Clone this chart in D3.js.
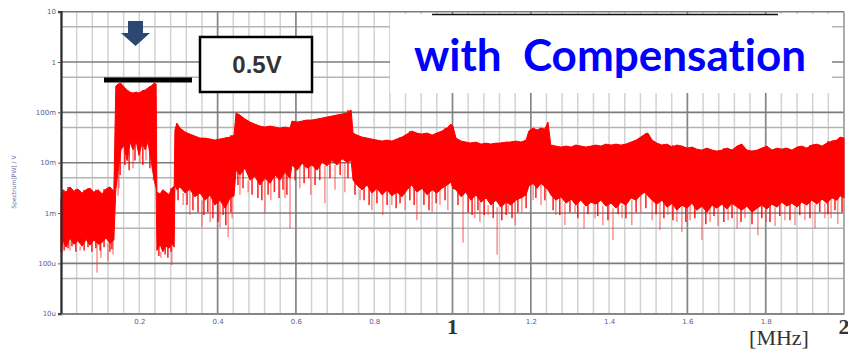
<!DOCTYPE html>
<html>
<head>
<meta charset="utf-8">
<script src="https://cdn.jsdelivr.net/npm/d3@7"></script>
<style>
  body { margin: 0; background: #fff; }
  svg { display: block; }
</style>
</head>
<body>
<svg id="chart" width="848" height="349"></svg>
<script>
// spectrum band: [MHz, top of band (V), bottom of dense band (V)]
const band = [
  [0.000, 0.0018, 0.00017], [0.005, 0.0029, 0.00029], [0.013, 0.0026, 0.00021], [0.023, 0.0033, 0.00032],
  [0.033, 0.0027, 0.00024], [0.043, 0.0030, 0.00028], [0.054, 0.0025, 0.00022], [0.064, 0.0029, 0.00030],
  [0.074, 0.0031, 0.00023], [0.084, 0.0026, 0.00029], [0.095, 0.0029, 0.00024], [0.105, 0.0024, 0.00026],
  [0.115, 0.0030, 0.00032], [0.125, 0.0033, 0.00025], [0.135, 0.0027, 0.00029],
  // 0.2 MHz burst
  [0.140, 0.333, 0.0029], [0.146, 0.365, 0.0071], [0.153, 0.38, 0.018], [0.161, 0.32, 0.022],
  [0.169, 0.278, 0.011], [0.176, 0.253, 0.026], [0.184, 0.242, 0.018], [0.192, 0.253, 0.027],
  [0.199, 0.242, 0.014], [0.207, 0.265, 0.0245], [0.215, 0.278, 0.018], [0.222, 0.304, 0.026],
  [0.230, 0.333, 0.011], [0.238, 0.38, 0.0045], [0.243, 0.365, 0.0031],
  // low notch
  [0.245, 0.0026, 0.00018], [0.253, 0.0024, 0.00024], [0.260, 0.0029, 0.00017], [0.268, 0.0026, 0.00022],
  [0.276, 0.0023, 0.00020], [0.283, 0.0031, 0.00025], [0.289, 0.0034, 0.00021],
  [0.291, 0.0445, 0.0036], [0.296, 0.0612, 0.0029], [0.304, 0.0487, 0.0033], [0.317, 0.0406, 0.0025],
  [0.329, 0.037, 0.0030], [0.342, 0.0338, 0.0021], [0.355, 0.0308, 0.0025], [0.368, 0.0308, 0.0018],
  [0.381, 0.0295, 0.0023], [0.393, 0.0281, 0.00144], [0.406, 0.0295, 0.0018], [0.419, 0.0308, 0.00125],
  [0.432, 0.0323, 0.0020], [0.442, 0.0354, 0.0022],
  [0.447, 0.0968, 0.0071], [0.457, 0.0884, 0.0057], [0.470, 0.0736, 0.0078], [0.483, 0.0641, 0.0045],
  [0.495, 0.0585, 0.0054], [0.508, 0.0534, 0.0036], [0.521, 0.0510, 0.0049], [0.534, 0.0534, 0.0039],
  [0.547, 0.0510, 0.0057], [0.559, 0.0487, 0.0045], [0.572, 0.0510, 0.0065], [0.585, 0.0487, 0.0049],
  [0.590, 0.0671, 0.0090], [0.603, 0.0641, 0.0071], [0.616, 0.0671, 0.0098], [0.628, 0.0703, 0.0078],
  [0.641, 0.0703, 0.0090], [0.654, 0.0736, 0.0071], [0.667, 0.0770, 0.0103], [0.679, 0.0806, 0.0086],
  [0.692, 0.0844, 0.011], [0.705, 0.0884, 0.0090], [0.718, 0.0925, 0.012], [0.730, 0.0968, 0.0103],
  [0.741, 0.111, 0.011],
  [0.746, 0.0388, 0.0045], [0.756, 0.0354, 0.0036], [0.769, 0.0323, 0.0029], [0.782, 0.0308, 0.0036],
  [0.794, 0.0295, 0.0025], [0.807, 0.0281, 0.0031], [0.820, 0.0269, 0.0023], [0.833, 0.0281, 0.0029],
  [0.845, 0.0269, 0.0022], [0.858, 0.0295, 0.0026], [0.871, 0.0323, 0.0021], [0.884, 0.037, 0.0029],
  [0.896, 0.0425, 0.0036], [0.909, 0.0388, 0.0026], [0.922, 0.037, 0.0031], [0.935, 0.0388, 0.0023],
  [0.948, 0.0354, 0.0029], [0.960, 0.0388, 0.0025], [0.973, 0.0425, 0.0031], [0.986, 0.0487, 0.0036],
  [0.996, 0.0585, 0.0041], [1.001, 0.0534, 0.0031], [1.009, 0.0308, 0.0029], [1.022, 0.0269, 0.0021],
  [1.034, 0.0257, 0.0026], [1.047, 0.0245, 0.0018], [1.060, 0.0257, 0.0023], [1.073, 0.0234, 0.00164],
  [1.086, 0.0245, 0.0020], [1.098, 0.0234, 0.00144], [1.111, 0.0245, 0.0018], [1.124, 0.0245, 0.00131],
  [1.137, 0.0257, 0.00164], [1.149, 0.0257, 0.00144], [1.162, 0.0269, 0.0018], [1.175, 0.0257, 0.0020],
  [1.188, 0.0281, 0.0023], [1.195, 0.0425, 0.0034], [1.206, 0.0487, 0.0039], [1.216, 0.0445, 0.0031],
  [1.226, 0.0487, 0.0039], [1.236, 0.0465, 0.0033], [1.244, 0.0641, 0.0029],
  [1.251, 0.0224, 0.0023], [1.264, 0.0214, 0.0018], [1.277, 0.0204, 0.0021], [1.290, 0.0214, 0.00157],
  [1.303, 0.0204, 0.0019], [1.315, 0.0224, 0.00144], [1.328, 0.0214, 0.0018], [1.341, 0.0204, 0.00137],
  [1.354, 0.0214, 0.00164], [1.366, 0.0224, 0.0015], [1.379, 0.0214, 0.0018], [1.392, 0.0234, 0.00137],
  [1.405, 0.0224, 0.00157], [1.418, 0.0234, 0.00125], [1.430, 0.0224, 0.00164], [1.443, 0.0234, 0.00144],
  [1.456, 0.0257, 0.0020], [1.469, 0.0281, 0.0018], [1.481, 0.0323, 0.0023], [1.492, 0.037, 0.0026],
  [1.499, 0.0388, 0.0022], [1.510, 0.0281, 0.0018], [1.522, 0.0245, 0.0015], [1.535, 0.0224, 0.0018],
  [1.548, 0.0234, 0.00131], [1.561, 0.0204, 0.00157], [1.573, 0.0224, 0.00114], [1.586, 0.0214, 0.00144],
  [1.599, 0.0195, 0.00125], [1.612, 0.0204, 0.00157], [1.624, 0.0186, 0.00114], [1.637, 0.0178, 0.00137],
  [1.650, 0.0195, 0.00104], [1.663, 0.0178, 0.00144], [1.675, 0.0170, 0.00125], [1.688, 0.0178, 0.0015],
  [1.701, 0.0195, 0.0012], [1.714, 0.0178, 0.00157], [1.727, 0.0214, 0.00131], [1.739, 0.0234, 0.00114],
  [1.752, 0.0178, 0.00137], [1.765, 0.0170, 0.00104], [1.778, 0.0178, 0.00125], [1.790, 0.0195, 0.00144],
  [1.803, 0.0214, 0.0012], [1.816, 0.0178, 0.0015], [1.829, 0.0195, 0.00131], [1.841, 0.0186, 0.00164],
  [1.854, 0.0195, 0.00137], [1.867, 0.0178, 0.00157], [1.880, 0.0204, 0.00131], [1.892, 0.0214, 0.00164],
  [1.905, 0.0195, 0.00144], [1.918, 0.0224, 0.0018], [1.931, 0.0234, 0.0015], [1.944, 0.0214, 0.0019],
  [1.956, 0.0245, 0.00157], [1.969, 0.0269, 0.0020], [1.982, 0.0281, 0.0018], [1.990, 0.0323, 0.0022],
  [2.000, 0.0308, 0.0020]
];

// dense streaks hanging just under the band: [MHz, lowest value (V)]
const streaks = [
  [0.008, 0.00018], [0.018, 0.0002], [0.028, 0.00022], [0.038, 0.00017], [0.059, 0.00018], [0.069, 0.00021],
  [0.079, 0.00017], [0.089, 0.0002], [0.100, 0.00018], [0.110, 0.00021], [0.125, 0.00017], [0.130, 0.00019],
  [0.151, 0.0057], [0.163, 0.009], [0.174, 0.0071], [0.189, 0.011], [0.209, 0.009], [0.227, 0.0078],
  [0.250, 0.00014], [0.266, 0.00015], [0.273, 0.00013], [0.281, 0.00017],
  [0.299, 0.0018], [0.322, 0.00144], [0.337, 0.00114], [0.350, 0.00104], [0.365, 0.00091], [0.375, 0.00104],
  [0.388, 0.00079], [0.401, 0.00066], [0.414, 0.00091], [0.421, 0.00057], [0.434, 0.00104],
  [0.452, 0.0036], [0.465, 0.0031], [0.488, 0.0023], [0.503, 0.0020], [0.513, 0.0018], [0.529, 0.0023],
  [0.545, 0.0026], [0.557, 0.0020], [0.567, 0.0029], [0.577, 0.0023], [0.598, 0.0045], [0.621, 0.0039],
  [0.633, 0.0049], [0.649, 0.0036], [0.661, 0.0045], [0.687, 0.0049], [0.713, 0.0057], [0.733, 0.0049],
  [0.751, 0.0023], [0.774, 0.0018], [0.787, 0.00144], [0.807, 0.00157], [0.833, 0.00144], [0.856, 0.00125],
  [0.866, 0.00157], [0.891, 0.0018], [0.902, 0.00144], [0.927, 0.00144], [0.940, 0.00114], [0.958, 0.00157],
  [0.981, 0.0018], [1.014, 0.00144], [1.040, 0.00104], [1.050, 0.00091], [1.065, 0.00114], [1.081, 0.00091],
  [1.104, 0.00079], [1.126, 0.00072], [1.137, 0.00091], [1.152, 0.00079], [1.167, 0.00104], [1.188, 0.00125],
  [1.213, 0.0020], [1.236, 0.0018],
  [1.257, 0.00114], [1.274, 0.00091], [1.300, 0.00104], [1.320, 0.00079], [1.346, 0.00095], [1.371, 0.00087],
  [1.397, 0.00072], [1.423, 0.00095], [1.443, 0.00079], [1.469, 0.00104], [1.494, 0.00125], [1.520, 0.00095],
  [1.540, 0.00079], [1.563, 0.00072], [1.596, 0.00066], [1.619, 0.00079], [1.647, 0.0006], [1.668, 0.00087],
  [1.693, 0.00066], [1.714, 0.00079], [1.737, 0.00066], [1.765, 0.0006], [1.790, 0.00079], [1.811, 0.00066],
  [1.836, 0.00087], [1.862, 0.00072], [1.887, 0.00091], [1.913, 0.00079], [1.938, 0.00104], [1.959, 0.00095],
  [1.977, 0.00114], [1.995, 0.00104]
];

// isolated, fainter downward spikes: [MHz, lowest value (V)]
const spikes = [
  [0.003, 0.00016], [0.023, 0.00018], [0.049, 0.00018], [0.092, 0.000065], [0.102, 0.00013], [0.120, 0.00011], [0.133, 0.00015],
  [0.146, 0.0022], [0.148, 0.0031], [0.184, 0.0078], [0.202, 0.0103], [0.217, 0.011], [0.235, 0.0049],
  [0.255, 0.00013], [0.283, 0.000092],
  [0.312, 0.00144], [0.329, 0.00091], [0.360, 0.00052], [0.381, 0.00066], [0.406, 0.00052], [0.427, 0.00033], [0.437, 0.00079],
  [0.457, 0.0023], [0.478, 0.0026], [0.521, 0.0010], [0.536, 0.0018], [0.572, 0.0020], [0.585, 0.00050],
  [0.610, 0.0031], [0.638, 0.0023], [0.674, 0.00157], [0.700, 0.0029], [0.725, 0.0026],
  [0.764, 0.0018], [0.794, 0.00114], [0.822, 0.00091], [0.845, 0.00144], [0.879, 0.00114], [0.909, 0.00072],
  [0.948, 0.00104], [0.968, 0.00144], [0.988, 0.00114], [1.027, 0.00026], [1.057, 0.00079], [1.070, 0.00066],
  [1.091, 0.00091], [1.114, 0.00015], [1.142, 0.00104], [1.160, 0.00057], [1.177, 0.00104], [1.206, 0.0018],
  [1.226, 0.00144], [1.264, 0.00091], [1.287, 0.00057], [1.313, 0.0010], [1.336, 0.00050], [1.364, 0.00079],
  [1.384, 0.00057], [1.410, 0.00029], [1.433, 0.00079], [1.458, 0.00057], [1.481, 0.00104], [1.510, 0.00072],
  [1.530, 0.00046], [1.550, 0.00091], [1.573, 0.00066], [1.586, 0.00042], [1.607, 0.00072], [1.637, 0.00029],
  [1.658, 0.00066], [1.678, 0.00055], [1.704, 0.00072], [1.727, 0.00050], [1.747, 0.00079], [1.780, 0.00036],
  [1.801, 0.00066], [1.824, 0.00055], [1.849, 0.00072], [1.875, 0.00057], [1.900, 0.00072], [1.926, 0.00050],
  [1.951, 0.00079], [1.967, 0.00079], [1.984, 0.00060]
];

const yDecades = [10, 1, 0.1, 0.01, 0.001, 0.0001, 0.00001];
const yDecadeLabels = ['10', '1', '100m', '10m', '1m', '100u', '10u'];
const yHalfDecades = [5, 0.5, 0.05, 0.005, 0.0005, 0.00005];
const xSmallTicks = [0.2, 0.4, 0.6, 0.8, 1.2, 1.4, 1.6, 1.8];
const xDarkGrid = [0.4, 0.6, 1.0, 1.2, 1.6, 1.8];
const xBigTicks = [1, 2];

const svg = d3.select('#chart');
const x = d3.scaleLinear().domain([0, 2]).range([61, 844]);
const y = d3.scaleLog().domain([1e-5, 10]).range([313.7, 11.7]);

// grid
const grid = svg.append('g');
grid.selectAll('.vminor')
  .data(d3.range(0, 2.0001, 0.04))
  .enter().append('line')
  .attr('x1', d => x(d)).attr('x2', d => x(d))
  .attr('y1', y(10)).attr('y2', y(1e-5))
  .attr('stroke', '#d2d2d2').attr('stroke-width', 1.5);

grid.selectAll('.hminor')
  .data(yHalfDecades)
  .enter().append('line')
  .attr('x1', x(0)).attr('x2', x(2))
  .attr('y1', d => y(d)).attr('y2', d => y(d))
  .attr('stroke', '#b4b4b4').attr('stroke-width', 1.5);

grid.selectAll('.vmajor')
  .data(xDarkGrid)
  .enter().append('line')
  .attr('x1', d => x(d)).attr('x2', d => x(d))
  .attr('y1', y(10)).attr('y2', y(1e-5))
  .attr('stroke', '#858585').attr('stroke-width', 1.6);

grid.selectAll('.hmajor')
  .data(yDecades)
  .enter().append('line')
  .attr('x1', x(0)).attr('x2', x(2))
  .attr('y1', d => y(d)).attr('y2', d => y(d))
  .attr('stroke', '#7c7c7c').attr('stroke-width', 1.6);

grid.append('line')
  .attr('x1', x(2)).attr('x2', x(2))
  .attr('y1', y(10)).attr('y2', y(1e-5))
  .attr('stroke', '#9a9a9a').attr('stroke-width', 1.5);

// spectrum
const bisect = d3.bisector(d => d[0]).left;
const bandAt = f => band[Math.min(bisect(band, f), band.length - 1)];

svg.append('g').selectAll('line')
  .data(spikes)
  .enter().append('line')
  .attr('x1', d => x(d[0])).attr('x2', d => x(d[0]))
  .attr('y1', d => y(bandAt(d[0])[2]))
  .attr('y2', d => y(d[1]))
  .attr('stroke', '#ff2a2a').attr('stroke-opacity', 0.5).attr('stroke-width', 1.6);

svg.append('g').selectAll('line')
  .data(streaks)
  .enter().append('line')
  .attr('x1', d => x(d[0])).attr('x2', d => x(d[0]))
  .attr('y1', d => y(bandAt(d[0])[1]))
  .attr('y2', d => y(d[1]))
  .attr('stroke', '#ff0000').attr('stroke-opacity', 0.85).attr('stroke-width', 1.6);

const area = d3.area()
  .x(d => x(d[0]))
  .y0(d => y(d[2]))
  .y1(d => y(d[1]));

svg.append('path')
  .datum(band)
  .attr('d', area)
  .attr('fill', '#ff0000')
  .attr('stroke', '#ff0000')
  .attr('stroke-width', 1);

// axes
const yAxis = svg.append('g')
  .attr('transform', `translate(${x(0)},0)`)
  .call(d3.axisLeft(y).tickValues(yDecades).tickSize(3).tickPadding(2)
    .tickFormat((d, i) => yDecadeLabels[i]));
yAxis.select('.domain').attr('stroke', '#2a2a2a').attr('stroke-width', 2.2);
yAxis.selectAll('.tick line').attr('stroke', '#555');
yAxis.selectAll('text').attr('fill', '#5c5c8e').attr('font-size', 7)
  .attr('font-family', 'DejaVu Sans, sans-serif');

const xAxis = svg.append('g')
  .attr('transform', `translate(0,${y(1e-5)})`)
  .call(d3.axisBottom(x).tickValues(xSmallTicks).tickSize(0).tickPadding(5)
    .tickFormat(d3.format('.1f')));
xAxis.select('.domain').attr('stroke', '#8a8a8a').attr('stroke-width', 1.5);
xAxis.selectAll('text').attr('fill', '#5c5c8e').attr('font-size', 7)
  .attr('font-family', 'DejaVu Sans, sans-serif');

svg.selectAll('.bigtick')
  .data(xBigTicks)
  .enter().append('text')
  .attr('x', d => x(d)).attr('y', 334)
  .attr('text-anchor', 'middle')
  .attr('font-family', 'Liberation Serif, serif')
  .attr('font-size', 22).attr('font-weight', 'bold')
  .attr('fill', '#333')
  .text(d => d);

svg.append('text')
  .attr('x', 779).attr('y', 345)
  .attr('text-anchor', 'middle')
  .attr('font-family', 'Liberation Serif, serif')
  .attr('font-size', 22)
  .attr('fill', '#333')
  .text('[MHz]');

svg.append('text')
  .attr('transform', 'translate(16,182) rotate(-90)')
  .attr('text-anchor', 'middle')
  .attr('font-family', 'DejaVu Sans, sans-serif')
  .attr('font-size', 6)
  .attr('fill', '#6a6a9a')
  .text('Spectrum[PW] / V');

// annotations
svg.append('rect')
  .attr('x', 390).attr('y', 14).attr('width', 442).attr('height', 79)
  .attr('fill', '#fff');
svg.append('line')
  .attr('x1', 432).attr('x2', 778).attr('y1', 14.5).attr('y2', 14.5)
  .attr('stroke', '#111').attr('stroke-width', 1.5);
svg.append('text')
  .attr('x', 610).attr('y', 71)
  .attr('text-anchor', 'middle')
  .attr('font-family', 'Lato, sans-serif')
  .attr('font-weight', 'bold')
  .attr('font-size', 44)
  .attr('fill', '#0000ff')
  .style('white-space', 'pre')
  .style('font-variant-ligatures', 'none')
  .text('with  Compensation');

svg.append('rect')
  .attr('x', 200).attr('y', 37).attr('width', 112).attr('height', 55)
  .attr('fill', '#fff').attr('stroke', '#000').attr('stroke-width', 2.5);
svg.append('text')
  .attr('x', 257).attr('y', 73)
  .attr('text-anchor', 'middle')
  .attr('font-family', 'Liberation Sans, Arial, sans-serif')
  .attr('font-weight', 'bold')
  .attr('font-size', 24)
  .attr('fill', '#333')
  .text('0.5V');

svg.append('rect')
  .attr('x', 104).attr('y', 77.5).attr('width', 88).attr('height', 5)
  .attr('fill', '#000');

svg.append('path')
  .attr('d', 'M128,21 H143 V33 H150 L135.5,46 L121,33 H128 Z')
  .attr('fill', '#2c4770');
</script>
</body>
</html>
